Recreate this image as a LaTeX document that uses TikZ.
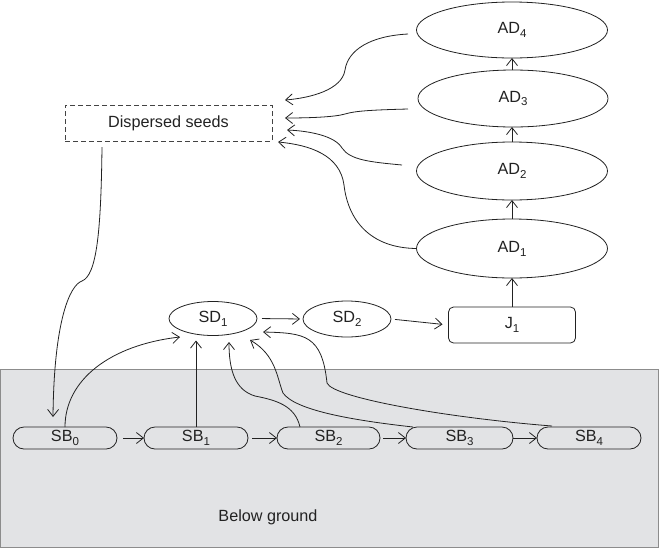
\documentclass[tikz,border=0pt]{standalone}
\usepackage{fontspec}
\setmainfont{Liberation Sans}
\usetikzlibrary{arrows.meta,shapes.geometric,shapes.misc}
\newcommand\lowidx[1]{\raisebox{-0.45ex}{\fontsize{11.5}{12}\selectfont #1}}
\definecolor{ink}{HTML}{222222}
\definecolor{ground}{HTML}{E2E3E5}
\definecolor{groundedge}{HTML}{8C8C8C}
\begin{document}
\begin{tikzpicture}[x=1pt,y=-1pt, line width=0.8pt, draw=ink,
  font=\fontsize{16.2}{19}\selectfont,
  every node/.style={inner sep=0pt, outer sep=0pt, text=ink},
  ell/.style={draw=ink, ellipse, fill=white},
  sbox/.style={draw=ink, rounded rectangle, minimum width=104pt, minimum height=22pt},
  arr/.style={draw=ink, -{Straight Barb[length=7pt,width=11pt]}},
]
\useasboundingbox (0,0) rectangle (659,550);
% ground
\fill[ground] (0,369) rectangle (659,548);
\draw[groundedge, line width=0.9pt] (0.5,369) rectangle (658.5,547.5);

% nodes
\node[ell, minimum width=191pt, minimum height=56pt] (ad4) at (512,30) {AD\lowidx{4}};
\node[ell, minimum width=190pt, minimum height=57pt] (ad3) at (513,98.5) {AD\lowidx{3}};
\node[ell, minimum width=191pt, minimum height=58pt] (ad2) at (512,171) {AD\lowidx{2}};
\node[ell, minimum width=191pt, minimum height=59pt] (ad1) at (512,248.5) {AD\lowidx{1}};
\node[draw=ink, rounded corners=5pt, minimum width=127pt, minimum height=36pt] (j1) at (512,325) {J\lowidx{1}};
\node[ell, minimum width=88pt, minimum height=36pt] (sd2) at (347,319) {SD\lowidx{2}};
\node[ell, minimum width=88pt, minimum height=34pt] (sd1) at (213,318.5) {SD\lowidx{1}};
\node[draw=ink!85, dash pattern=on 5pt off 3pt, minimum width=207pt, minimum height=36pt] (disp) at (168.5,123) {Dispersed seeds};

\node[sbox] (sb0) at (65,438) {SB\lowidx{0}};
\node[sbox] (sb1) at (196,438) {SB\lowidx{1}};
\node[sbox, minimum width=103pt] (sb2) at (328.5,438) {SB\lowidx{2}};
\node[sbox, minimum width=107pt] (sb3) at (459.5,438) {SB\lowidx{3}};
\node[sbox] (sb4) at (589,438) {SB\lowidx{4}};

\node (below) at (268,517) {Below ground};

% straight connectors
\draw[arr, shorten <=6pt] (sb0.east) -- (sb1.west);
\draw[arr, shorten <=4pt] (sb1.east) -- (sb2.west);
\draw[arr, shorten <=3pt] (sb2.east) -- (sb3.west);
\draw[arr] (sb3.east) -- (sb4.west);
\draw[arr, shorten <=5pt, shorten >=3pt] (sd1.east) -- (sd2.west);
\draw[arr, shorten <=4pt, shorten >=6pt] (sd2.east) -- (j1.west);
\draw[arr] (j1.north) -- (ad1.south);
\draw[arr] (ad1.north) -- (ad2.south);
\draw[arr] (ad2.north) -- (ad2.north |- ad3.south);
\draw[arr] (ad3.north -| ad4.south) -- (ad4.south);
\draw[arr, shorten >=5pt] (sb1.north) -- (sb1.north |- sd1.south);

% free ends
\coordinate (c0) at (180,337);
\coordinate (d0) at (102,147);
\coordinate (s0in) at (53,417);
\coordinate (b2) at (300,427);
\coordinate (c2) at (229,342);
\coordinate (b3) at (413,427);
\coordinate (c3) at (250,340);
\coordinate (b4) at (552,426);
\coordinate (c4) at (263,332);
\coordinate (a4) at (408,34);
\coordinate (t4) at (285,100);
\coordinate (a3) at (408,109);
\coordinate (t3) at (285,118);
\coordinate (a2) at (402,165);
\coordinate (t2) at (287,130);
\coordinate (t1) at (278,142);

% curved connectors
\draw[arr] (sb0.north) .. controls (65,380) and (110,345) .. (c0);
\draw[arr] (d0) .. controls (101,230) and (97,275) .. (82,281) .. controls (70,285) and (54,320) .. (s0in);
\draw[arr] (b2) .. controls (295,405) and (275,400) .. (255,396) .. controls (235,390) and (229,370) .. (c2);
\draw[arr] (b3) .. controls (350,420) and (295,410) .. (283,393) .. controls (277,378) and (276,355) .. (c3);
\draw[arr] (b4) .. controls (450,418) and (333,398) .. (327,383) .. controls (322,335) and (305,333) .. (c4);

\draw[arr] (a4) .. controls (370,36) and (348,50) .. (345,70) .. controls (342,90) and (310,98) .. (t4);
\draw[arr] (a3) .. controls (370,110) and (355,111) .. (345,114) .. controls (335,117) and (310,118) .. (t3);
\draw[arr] (a2) .. controls (370,162) and (350,160) .. (342,148) .. controls (335,136) and (310,131) .. (t2);
\draw[arr] (ad1.west) .. controls (370,248) and (348,220) .. (344,185) .. controls (340,155) and (310,145) .. (t1);
\end{tikzpicture}
\end{document}
